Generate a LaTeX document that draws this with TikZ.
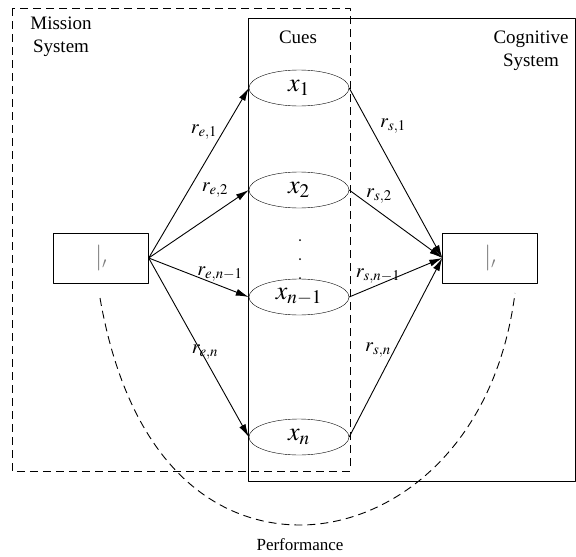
\documentclass[tikz,border=0pt]{standalone}
\usepackage{mathptmx}
\usepackage[no-math]{fontspec}
\setmainfont{Liberation Serif}
\usetikzlibrary{arrows.meta,shapes.geometric}

\begin{document}
\begin{tikzpicture}[x=1pt, y=-1pt, line join=round, >={Latex[length=13pt,width=7pt]}, font=\fontsize{19}{23}\selectfont]
	\tikzset{cue/.style={draw, ellipse, minimum width=100pt, minimum height=36pt, inner sep=0pt, font=\fontsize{26}{28}\selectfont},
		judge/.style={draw, minimum width=95pt, minimum height=50pt, inner sep=0pt, text=gray, font=\fontsize{26}{28}\selectfont},
		weight/.style={font=\fontsize{20}{22}\selectfont, inner sep=0pt},
		sysline/.style={line width=0.9pt},
		dash line/.style={line width=0.9pt, dash pattern=on 8pt off 5pt}}
	\useasboundingbox (0,0) rectangle (576,557);
	% system frames
	\draw[sysline] (248,18) rectangle (575,481);
	\draw[dash line] (12,8) rectangle (350,471);
	\node (mission) at (61,37) [align=center] {Mission\\System};
	\node (cognitive) at (531,51) [align=center] {Cognitive\\System};
	\node (cues) at (298,37) {Cues};
	% cues
	\node[cue] (c1) at (299,88) {$x_1$};
	\node[cue] (c2) at (299,190) {$x_2$};
	\node[cue] (c3) at (299,297) {$x_{n-1}$};
	\node[cue] (c4) at (299,437) {$x_n$};
	\foreach \y/\n in {240/a,259/b,278/c} \fill (300,\y) circle (1pt) coordinate (dot\n);
	% criterion and judgment
	\node[judge] (ye) at (101,258) {$|_{\scriptscriptstyle\prime}$};
	\node[judge] (ys) at (490,258) {$|_{\scriptscriptstyle\prime}$};
	\foreach \c in {c1,c2,c3,c4} {
		\draw[sysline,->] (ye.east) -- (\c.west);
		\draw[sysline,->] (\c.east) -- (ys.west);
	}
	% validities and utilizations
	\node[weight] (re1) at (204,132) {$r_{e,1}$};
	\node[weight] (re2) at (215,190) {$r_{e,2}$};
	\node[weight] (re3) at (220,274) {$r_{e,n-1}$};
	\node[weight] (re4) at (205,352) {$r_{e,n}$};
	\node[weight] (rs1) at (393,126) {$r_{s,1}$};
	\node[weight] (rs2) at (379,196) {$r_{s,2}$};
	\node[weight] (rs3) at (378,276) {$r_{s,n-1}$};
	\node[weight] (rs4) at (378,350) {$r_{s,n}$};
	% performance
	\coordinate (p1) at (100,298);
	\coordinate (p2) at (515,293);
	\draw[dash line] (p1) .. controls (130,470) and (220,525) .. (300,525) .. controls (390,525) and (495,450) .. (p2);
	\node[font=\fontsize{17}{19}\selectfont] (perf) at (300,545) {Performance};
\end{tikzpicture}
\end{document}
